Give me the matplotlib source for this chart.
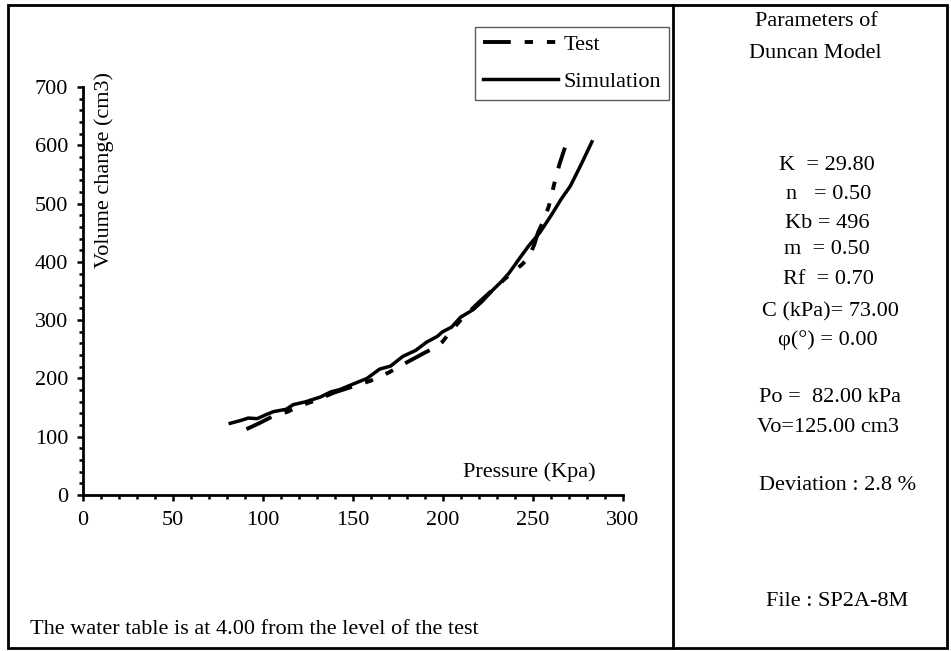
import matplotlib
matplotlib.use("Agg")
import matplotlib.pyplot as plt
from matplotlib.lines import Line2D
from matplotlib.patches import Rectangle

plt.rcParams['font.family'] = ['Liberation Serif', 'DejaVu Serif']
plt.rcParams['lines.scale_dashes'] = False

# ---- data ----
p_sim = [82, 88, 92, 97, 102, 106, 113, 117, 124, 132, 138, 143, 150, 158, 165,
         171, 178, 185, 191, 197, 200, 205, 210, 217, 222, 228, 233, 237, 243,
         248, 254, 260, 266, 271, 277, 283]
v_sim = [123, 128, 132, 131, 138, 143, 147, 155, 160, 168, 177, 181, 190, 200, 216,
         221, 238, 248, 262, 272, 280, 288, 305, 318, 332, 352, 367, 381, 407,
         428, 450, 478, 508, 530, 567, 606]

p_test = [91, 98, 105, 114, 120, 130, 140, 150, 160, 170, 181, 190, 197, 200, 203,
          210, 220, 230, 238, 244, 248, 251, 253, 256, 259, 262, 265, 268]
v_test = [113, 123, 134, 143, 152, 163, 176, 186, 196, 210, 229, 244, 255, 263, 275,
          300, 330, 358, 380, 395, 408, 430, 450, 470, 495, 533, 568, 596]

x_ticks = [0, 50, 100, 150, 200, 250, 300]
y_ticks = [0, 100, 200, 300, 400, 500, 600, 700]

params = ["K  = 29.80", "n   = 0.50", "Kb = 496", "m  = 0.50", "Rf  = 0.70",
          "C (kPa)= 73.00", "\u03c6(\u00b0) = 0.00"]
title_lines = ["Parameters of", "Duncan Model"]
extra_lines = ["Po =  82.00 kPa", "Vo=125.00 cm3", "Deviation : 2.8 %", "File : SP2A-8M"]
footer = "The water table is at 4.00 from the level of the test"

FS = 16

W, H = 951, 651
fig = plt.figure(figsize=(W / 100, H / 100), dpi=100)

def fx(px):
    return px / W

def fy(py):
    return 1 - py / H

# axes: x 0 -> 82.7 px, 300 -> 622.5 px ; y 0 -> 495 px, 700 -> 87 px
ax = fig.add_axes([fx(82.7), fy(495), fx(622.5) - fx(82.7), fy(87) - fy(495)])
ax.set_xlim(0, 300)
ax.set_ylim(0, 700)
for s in ['top', 'right']:
    ax.spines[s].set_visible(False)
for s in ['left', 'bottom']:
    ax.spines[s].set_linewidth(2.0)

ax.set_xticks(x_ticks)
ax.set_yticks(y_ticks)
ax.set_xticks(range(0, 301, 10), minor=True)
ax.set_yticks(range(0, 701, 20), minor=True)
ax.tick_params(which='major', direction='out', length=4.5, width=1.8, labelsize=FS, pad=7)
ax.tick_params(which='minor', direction='out', length=3, width=1.8)
ax.tick_params(axis='y', which='major', pad=6)

ax.plot(p_test, v_test, color='black', lw=2.8, dashes=[20, 10, 6, 10, 6, 10],
        label='Test', solid_capstyle='butt', dash_capstyle='butt')
ax.plot(p_sim, v_sim, color='black', lw=2.5, label='Simulation')

ax.text(0.0395, 0.797, "Volume change (cm3)", transform=ax.transAxes, rotation=90,
        ha='center', va='center', fontsize=FS)
ax.text(0.827, 0.057, "Pressure (Kpa)", transform=ax.transAxes,
        ha='center', va='center', fontsize=FS)

leg = ax.legend(loc='upper left', bbox_to_anchor=(fx(475), fy(26.7)),
                bbox_transform=fig.transFigure, fontsize=FS, frameon=True,
                fancybox=False, handlelength=3.4, handletextpad=0.25,
                borderpad=0.35, labelspacing=0.75, borderaxespad=0)
leg.get_frame().set_edgecolor('#333333')
leg.get_frame().set_linewidth(1.0)

# frame and divider
fig.add_artist(Rectangle((fx(8), fy(648)), fx(947) - fx(8), fy(5) - fy(648),
                         transform=fig.transFigure, fill=False, lw=2.0,
                         edgecolor='black'))
fig.add_artist(Line2D([fx(673), fx(673)], [fy(5), fy(648)],
                      transform=fig.transFigure, color='black', lw=2.0))

# right panel text
fig.text(fx(816), fy(21), title_lines[0], ha='center', va='center', fontsize=FS)
fig.text(fx(815), fy(53), title_lines[1], ha='center', va='center', fontsize=FS)
param_y = [166, 195, 223, 250, 279, 312, 340]
param_x = [827, 829, 827, 827, 828, 830, 828]
for t, xx, yy in zip(params, param_x, param_y):
    fig.text(fx(xx), fy(yy), t, ha='center', va='center', fontsize=FS)
extra_y = [397, 427, 485, 602]
extra_x = [830, 828, 838, 837]
for t, xx, yy in zip(extra_lines, extra_x, extra_y):
    fig.text(fx(xx), fy(yy), t, ha='center', va='center', fontsize=FS)

fig.text(fx(30), fy(630), footer, ha='left', va='center', fontsize=FS)

fig.savefig("out.png", dpi=100)
